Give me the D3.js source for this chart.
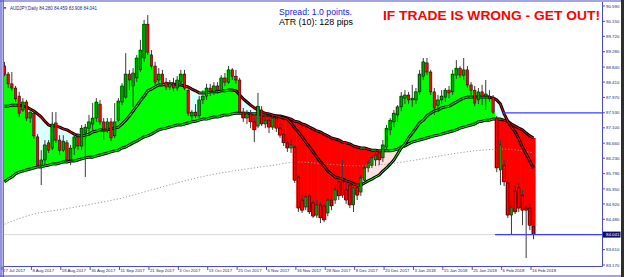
<!DOCTYPE html>
<html>
<head>
<meta charset="utf-8">
<script src="https://cdn.jsdelivr.net/npm/d3@7"></script>
<style>
  body { margin: 0; background: #fff; }
  svg { display: block; }
</style>
</head>
<body>
<script>
// AUDJPY daily bars (one value per bar)
var openP = [88.87,88.64,88.36,88.24,88.01,87.61,87.84,87.38,87.52,86.84,
  86.03,86.18,86.67,86.52,87.24,86.75,86.46,86.67,86.18,86.52,
  86.84,86.58,86.95,87.09,87.21,87.38,87.78,87.27,87.04,87.27,
  86.87,87.32,87.84,87.98,88.64,88.30,88.53,88.76,89.10,90.07,
  89.19,88.87,88.47,88.64,88.41,88.27,88.36,88.24,88.41,88.64,
  88.18,87.44,87.55,87.44,87.90,88.01,88.24,88.13,88.30,88.18,
  88.53,88.41,88.76,88.58,88.47,87.55,87.38,87.50,87.27,87.15,
  87.61,87.21,87.32,87.12,87.38,87.09,86.92,86.67,86.52,86.55,
  85.69,85.03,84.83,85.15,84.95,84.60,84.89,84.86,84.66,85.03,
  85.03,85.55,85.60,85.32,85.46,84.89,85.38,85.26,85.60,85.95,
  86.03,86.18,86.38,86.24,86.55,87.04,87.27,87.47,87.70,87.95,
  88.04,87.90,87.90,88.13,88.58,88.96,88.70,88.13,87.75,87.90,
  87.98,88.18,88.13,88.61,88.81,88.61,88.76,88.33,88.18,87.90,
  88.13,88.01,88.01,87.98,87.38,85.89,86.03,85.52,84.60,85.29,
  85.38,85.17,84.80,84.80,84.280];

var highP = [88.99,88.70,88.70,88.30,88.13,87.95,87.90,87.67,87.58,86.92,
  86.46,86.75,86.75,87.55,87.55,86.89,86.89,86.75,86.61,86.95,
  86.95,87.18,87.21,87.47,87.81,87.95,87.90,87.38,87.38,87.38,
  87.81,87.95,88.38,89.24,88.76,88.81,89.19,89.62,90.19,90.33,
  89.33,88.99,88.81,88.76,88.53,88.47,88.53,88.58,88.76,88.76,
  88.24,87.61,87.78,88.01,88.18,88.36,88.36,88.41,88.41,88.61,
  88.67,88.87,88.81,88.76,88.53,87.67,87.61,87.61,87.38,88.10,
  87.72,87.50,87.44,87.47,87.47,87.21,87.04,86.81,86.75,86.61,
  85.75,85.17,85.23,85.23,85.03,85.03,84.97,84.92,85.09,85.15,
  85.43,85.66,86.18,85.66,85.60,85.46,85.49,85.75,86.03,86.18,
  86.32,86.46,86.46,86.75,87.18,87.38,87.61,87.75,88.13,88.18,
  88.13,88.33,88.24,88.76,89.10,89.10,88.76,88.24,88.04,88.18,
  88.24,88.30,88.76,89.04,88.87,89.10,88.87,88.41,88.30,88.24,
  88.33,88.47,88.18,88.04,87.44,86.75,86.18,85.60,85.03,85.43,
  85.52,85.32,84.89,84.92,84.459];

var lowP = [88.58,88.24,88.16,87.84,87.41,87.55,87.29,87.24,86.78,85.98,
  85.46,86.03,86.38,86.46,86.67,86.32,86.41,86.12,86.03,86.32,
  86.46,86.46,85.69,86.89,87.01,87.27,87.18,86.75,86.95,86.72,
  86.81,87.27,87.75,87.93,88.18,87.70,88.41,88.70,88.99,89.19,
  88.76,88.33,88.33,88.30,88.18,88.18,88.13,88.16,88.33,88.18,
  87.44,87.32,87.38,87.38,87.78,87.90,88.01,88.04,88.07,88.13,
  88.30,88.36,88.47,88.36,87.50,87.27,87.21,87.09,86.69,87.09,
  87.15,87.09,86.95,87.04,86.98,86.81,86.58,86.41,86.38,85.52,
  84.69,84.66,84.74,84.63,84.52,84.52,84.37,84.40,84.57,84.74,
  84.92,85.03,85.09,84.92,84.80,84.69,85.03,85.15,85.49,85.83,
  85.95,86.01,86.03,86.12,86.46,86.89,87.12,87.27,87.58,87.78,
  87.78,87.70,87.78,88.04,88.47,88.61,88.04,87.47,87.55,87.78,
  87.84,87.95,88.04,88.50,88.53,88.47,88.24,88.04,87.72,87.78,
  87.75,87.61,87.84,87.50,85.83,85.46,85.43,84.52,84.03,84.63,
  84.69,84.31,83.37,84.17,83.908];

var closeP = [88.64,88.36,88.24,87.93,87.52,87.84,87.38,87.55,86.87,86.03,
  86.18,86.61,86.46,87.21,86.75,86.46,86.72,86.18,86.52,86.84,
  86.58,87.09,87.12,87.27,87.38,87.84,87.27,87.04,87.27,86.81,
  87.27,87.87,88.30,88.64,88.47,88.67,89.10,89.33,90.07,89.27,
  88.87,88.41,88.64,88.38,88.27,88.36,88.24,88.47,88.64,88.24,
  87.52,87.55,87.44,87.90,88.01,88.24,88.13,88.30,88.18,88.53,
  88.41,88.76,88.58,88.47,87.55,87.38,87.50,87.27,87.04,87.72,
  87.21,87.32,87.12,87.38,87.09,86.89,86.67,86.52,86.61,85.60,
  84.80,84.74,85.12,84.69,84.57,84.89,84.52,84.46,85.03,84.86,
  85.32,85.15,85.17,85.03,84.89,85.38,85.17,85.66,85.95,86.09,
  86.24,86.32,86.18,86.61,87.09,87.32,87.52,87.70,88.01,88.04,
  87.90,87.95,88.13,88.64,88.99,88.70,88.13,87.67,87.90,88.01,
  88.18,88.10,88.64,88.81,88.61,88.76,88.33,88.18,87.81,88.13,
  88.01,88.07,87.95,87.55,85.95,86.61,85.55,84.60,84.83,84.69,
  84.80,84.74,84.74,84.31,84.041];

// the two moving averages of the band, one value per bar
var fastMA = [87.72,87.72,87.75,87.75,87.75,87.72,87.70,87.64,87.58,87.50,
  87.41,87.29,87.18,87.15,87.15,87.12,87.07,87.04,86.98,86.92,
  86.87,86.87,86.89,86.92,86.98,87.01,87.04,87.04,87.04,87.07,
  87.09,87.12,87.21,87.32,87.44,87.58,87.72,87.87,88.01,88.16,
  88.21,88.27,88.33,88.33,88.36,88.36,88.36,88.33,88.33,88.30,
  88.27,88.21,88.16,88.10,88.10,88.10,88.13,88.13,88.13,88.16,
  88.16,88.18,88.18,88.16,88.04,87.93,87.84,87.75,87.67,87.61,
  87.55,87.52,87.50,87.47,87.44,87.41,87.38,87.35,87.24,87.09,
  86.98,86.84,86.69,86.55,86.41,86.26,86.12,86.01,85.86,85.78,
  85.69,85.66,85.63,85.58,85.55,85.49,85.46,85.46,85.52,85.58,
  85.63,85.69,85.75,85.86,85.95,86.06,86.18,86.35,86.52,86.64,
  86.81,86.95,87.09,87.24,87.32,87.44,87.52,87.58,87.61,87.67,
  87.70,87.72,87.78,87.84,87.90,87.95,87.98,87.98,87.98,87.98,
  87.98,87.98,87.98,87.95,87.90,87.78,87.50,87.29,87.12,86.98,
  86.78,86.55,86.35,86.15,85.95];

var slowMA = [85.55,85.63,85.69,85.78,85.83,85.86,85.89,85.92,85.95,85.98,
  85.98,86.01,86.03,86.06,86.06,86.09,86.12,86.12,86.15,86.15,
  86.18,86.21,86.24,86.26,86.26,86.29,86.32,86.35,86.38,86.41,
  86.44,86.46,86.52,86.55,86.61,86.67,86.72,86.78,86.84,86.87,
  86.92,86.98,87.04,87.07,87.09,87.12,87.15,87.18,87.18,87.21,
  87.24,87.27,87.29,87.32,87.35,87.35,87.38,87.41,87.41,87.44,
  87.47,87.47,87.50,87.52,87.52,87.52,87.52,87.50,87.50,87.50,
  87.47,87.47,87.47,87.44,87.44,87.44,87.41,87.38,87.35,87.29,
  87.27,87.21,87.18,87.12,87.07,87.01,86.98,86.92,86.87,86.81,
  86.78,86.75,86.69,86.67,86.64,86.58,86.55,86.52,86.52,86.49,
  86.46,86.46,86.44,86.44,86.44,86.44,86.46,86.49,86.55,86.58,
  86.64,86.69,86.72,86.75,86.78,86.81,86.84,86.87,86.89,86.92,
  86.95,86.98,87.01,87.04,87.09,87.12,87.15,87.18,87.21,87.27,
  87.29,87.32,87.32,87.35,87.35,87.35,87.32,87.29,87.21,87.15,
  87.09,87.04,86.95,86.87,86.81];

// long dotted average, one value every 8 bars
var longMA = [84.34,84.63,84.77,84.92,85.09,85.32,85.55,85.75,85.89,86.01,
  86.12,86.06,86.01,86.06,86.18,86.32,86.44,86.49,86.38];
var longEvery = 8;

// time axis labels, one every 8 bars
var dateLabels = ["27 Jul 2017","8 Aug 2017","18 Aug 2017","30 Aug 2017","11 Sep 2017",
  "21 Sep 2017","3 Oct 2017","13 Oct 2017","25 Oct 2017","6 Nov 2017","16 Nov 2017",
  "28 Nov 2017","8 Dec 2017","20 Dec 2017","3 Jan 2018","15 Jan 2018","25 Jan 2018",
  "6 Feb 2018","16 Feb 2018"];
var labelEvery = 8;

var priceTicks = [90.590,90.150,89.720,89.280,88.840,88.410,87.970,87.530,87.100,
  86.660,86.230,85.790,85.350,84.920,84.480,83.610,83.170];

// drawn horizontal levels and the bar each one starts at
var levelPrices = [87.53, 84.041];
var levelStart = [136, 134];

var symbolText = "AUDJPY,Daily";
var spreadText = "Spread: 1.0 points.";
var atrText = "ATR (10): 128 pips";
var warnText = "IF TRADE IS WRONG - GET OUT!";

// ---- layout ----
var W = 625, H = 277;
var plot = {left: 4, right: 602.5, top: 2, bottom: 266.5};
var frameBlue = "#4a4ac8";
var labelInk = "#23237a";

var svg = d3.select("body").append("svg")
    .attr("width", W)
    .attr("height", H)
    .style("font-family", "'Liberation Sans', Arial, sans-serif");

var x = d3.scaleLinear().domain([0, 144]).range([4.5, 533.5]);
var y = d3.scaleLinear().domain([83.17, 90.59]).range([265, 6]);
var step = x(1) - x(0);
var bars = d3.range(closeP.length);
var last = closeP.length - 1;

svg.append("defs").append("clipPath").attr("id", "clip")
  .append("rect")
    .attr("x", plot.left).attr("y", plot.top)
    .attr("width", plot.right - plot.left)
    .attr("height", plot.bottom - plot.top);

var g = svg.append("g").attr("clip-path", "url(#clip)");

// band between the averages: light cyan when fast is on top, light pink otherwise
g.selectAll(".band").data(bars).enter().append("rect")
    .attr("class", "band")
    .attr("x", function(i) { return x(i) - step / 2 - 0.3; })
    .attr("width", step + 0.6)
    .attr("y", function(i) { return y(Math.max(fastMA[i], slowMA[i])); })
    .attr("height", function(i) { return Math.abs(y(fastMA[i]) - y(slowMA[i])); })
    .attr("fill", function(i) { return fastMA[i] >= slowMA[i] ? "#dcffff" : "#ffe2e0"; });

// histogram from the slow average to the close
g.selectAll(".hist").data(bars).enter().append("rect")
    .attr("class", "hist")
    .attr("x", function(i) { return x(i) - step / 2 - 0.3; })
    .attr("width", step + 0.6)
    .attr("y", function(i) { return y(Math.max(closeP[i], slowMA[i])); })
    .attr("height", function(i) { return Math.abs(y(closeP[i]) - y(slowMA[i])); })
    .attr("fill", function(i) { return closeP[i] >= slowMA[i] ? "#00ff00" : "#ff0000"; });

// bid line
g.append("line")
    .attr("x1", plot.left).attr("x2", plot.right)
    .attr("y1", y(closeP[last])).attr("y2", y(closeP[last]))
    .attr("stroke", "#d8d8d8").attr("stroke-width", 1);

// long dotted average
var longLine = d3.line()
    .x(function(d, k) { return x(k * longEvery); })
    .y(function(d) { return y(d); })
    .curve(d3.curveMonotoneX);

g.append("path")
    .attr("d", longLine(longMA))
    .attr("fill", "none")
    .attr("stroke", "#9a9a9a")
    .attr("stroke-width", 1)
    .attr("stroke-dasharray", "1.2,2");

// the two averages: black casing with a core coloured by direction
function drawMA(vals) {
  var line = d3.line()
      .x(function(d, i) { return x(i); })
      .y(function(d) { return y(d); });
  g.append("path")
      .attr("d", line(vals))
      .attr("fill", "none")
      .attr("stroke", "#000")
      .attr("stroke-width", 3)
      .attr("stroke-linejoin", "round");
  g.selectAll(null).data(d3.range(vals.length - 1)).enter().append("line")
      .attr("x1", function(i) { return x(i); })
      .attr("x2", function(i) { return x(i + 1); })
      .attr("y1", function(i) { return y(vals[i]); })
      .attr("y2", function(i) { return y(vals[i + 1]); })
      .attr("stroke", function(i) { return vals[i + 1] >= vals[i] ? "#00ff00" : "#ff0000"; })
      .attr("stroke-width", 0.9)
      .attr("stroke-linecap", "round");
}
drawMA(slowMA);
drawMA(fastMA);

// candles
g.selectAll(".wick").data(bars).enter().append("line")
    .attr("class", "wick")
    .attr("x1", function(i) { return x(i); })
    .attr("x2", function(i) { return x(i); })
    .attr("y1", function(i) { return y(highP[i]); })
    .attr("y2", function(i) { return y(lowP[i]); })
    .attr("stroke", "#3a3a3a")
    .attr("stroke-width", 1);

g.selectAll(".body").data(bars).enter().append("rect")
    .attr("class", "body")
    .attr("x", function(i) { return x(i) - 1.25; })
    .attr("width", 2.5)
    .attr("y", function(i) { return y(Math.max(openP[i], closeP[i])); })
    .attr("height", function(i) { return Math.max(0.8, Math.abs(y(openP[i]) - y(closeP[i]))); })
    .attr("fill", function(i) { return closeP[i] >= openP[i] ? "#00a000" : "#ff0000"; })
    .attr("stroke", "#000")
    .attr("stroke-width", 0.5);

// horizontal levels drawn on the chart
g.selectAll(".level").data(levelPrices).enter().append("line")
    .attr("class", "level")
    .attr("x1", function(d, k) { return x(levelStart[k]) - step / 2; })
    .attr("x2", plot.right)
    .attr("y1", function(d) { return y(d); })
    .attr("y2", function(d) { return y(d); })
    .attr("stroke", "#3c3cff")
    .attr("stroke-width", 1.3);

// ---- frame ----
svg.append("line").attr("x1", 1).attr("x2", 1).attr("y1", 0).attr("y2", H)
    .attr("stroke", frameBlue).attr("stroke-width", 1.2);
svg.append("line").attr("x1", 3.2).attr("x2", 3.2).attr("y1", 0).attr("y2", H)
    .attr("stroke", frameBlue).attr("stroke-width", 1.2);
svg.append("line").attr("x1", 0).attr("x2", 621).attr("y1", 1).attr("y2", 1)
    .attr("stroke", frameBlue).attr("stroke-width", 1.2);
svg.append("line").attr("x1", 0).attr("x2", 621).attr("y1", 276).attr("y2", 276)
    .attr("stroke", frameBlue).attr("stroke-width", 1.2);
svg.append("rect").attr("x", 621).attr("y", 0).attr("width", 3).attr("height", H)
    .attr("fill", "#2e2e2e");

svg.append("line")
    .attr("x1", plot.right).attr("x2", plot.right)
    .attr("y1", plot.top).attr("y2", plot.bottom)
    .attr("stroke", frameBlue).attr("stroke-width", 1);
svg.append("line")
    .attr("x1", plot.left).attr("x2", plot.right)
    .attr("y1", plot.bottom).attr("y2", plot.bottom)
    .attr("stroke", frameBlue).attr("stroke-width", 1);

// price scale
var pt = svg.selectAll(".ptick").data(priceTicks).enter().append("g").attr("class", "ptick");
pt.append("line")
    .attr("x1", plot.right).attr("x2", plot.right + 2.5)
    .attr("y1", function(d) { return y(d); })
    .attr("y2", function(d) { return y(d); })
    .attr("stroke", frameBlue);
pt.append("text")
    .attr("x", plot.right + 3.5)
    .attr("y", function(d) { return y(d) + 1.6; })
    .attr("font-size", 4.4)
    .attr("fill", labelInk)
    .text(function(d) { return d.toFixed(3); });

// current price box
svg.append("rect")
    .attr("x", plot.right + 0.5).attr("y", y(closeP[last]) - 3)
    .attr("width", 17.5).attr("height", 6)
    .attr("fill", "#0c0c6e");
svg.append("text")
    .attr("x", plot.right + 3.5).attr("y", y(closeP[last]) + 1.6)
    .attr("font-size", 4.4)
    .attr("fill", "#fff")
    .text(closeP[last].toFixed(3));

// time scale
var dt = svg.selectAll(".dtick").data(dateLabels).enter().append("g").attr("class", "dtick");
dt.append("line")
    .attr("x1", function(d, k) { return x(k * labelEvery) - 2.5; })
    .attr("x2", function(d, k) { return x(k * labelEvery) - 2.5; })
    .attr("y1", plot.bottom).attr("y2", plot.bottom + 3.5)
    .attr("stroke", frameBlue);
dt.append("text")
    .attr("x", function(d, k) { return x(k * labelEvery) - 1.5; })
    .attr("y", 272.3)
    .attr("font-size", 4.3)
    .attr("fill", labelInk)
    .text(function(d) { return d; });

// ---- texts ----
svg.append("path")
    .attr("d", "M3.6,7.2 L6.4,7.2 L5,9.2 Z")
    .attr("fill", labelInk);
svg.append("text")
    .attr("x", 10).attr("y", 9.6)
    .attr("font-size", 4.6)
    .attr("fill", labelInk)
    .attr("textLength", 87).attr("lengthAdjust", "spacingAndGlyphs")
    .text(symbolText + " " + [openP[last], highP[last], lowP[last], closeP[last]]
      .map(function(v) { return v.toFixed(3); }).join(" "));

svg.append("text")
    .attr("x", 279).attr("y", 15.2)
    .attr("font-size", 8.5)
    .attr("fill", "#1616f0")
    .attr("textLength", 73).attr("lengthAdjust", "spacingAndGlyphs")
    .text(spreadText);

svg.append("text")
    .attr("x", 279).attr("y", 25.3)
    .attr("font-size", 8.5)
    .attr("fill", "#000")
    .attr("textLength", 74).attr("lengthAdjust", "spacingAndGlyphs")
    .text(atrText);

svg.append("text")
    .attr("x", 383).attr("y", 19.6)
    .attr("font-size", 13)
    .attr("font-weight", "bold")
    .attr("fill", "#ff0000")
    .attr("textLength", 217).attr("lengthAdjust", "spacingAndGlyphs")
    .text(warnText);
</script>
</body>
</html>
